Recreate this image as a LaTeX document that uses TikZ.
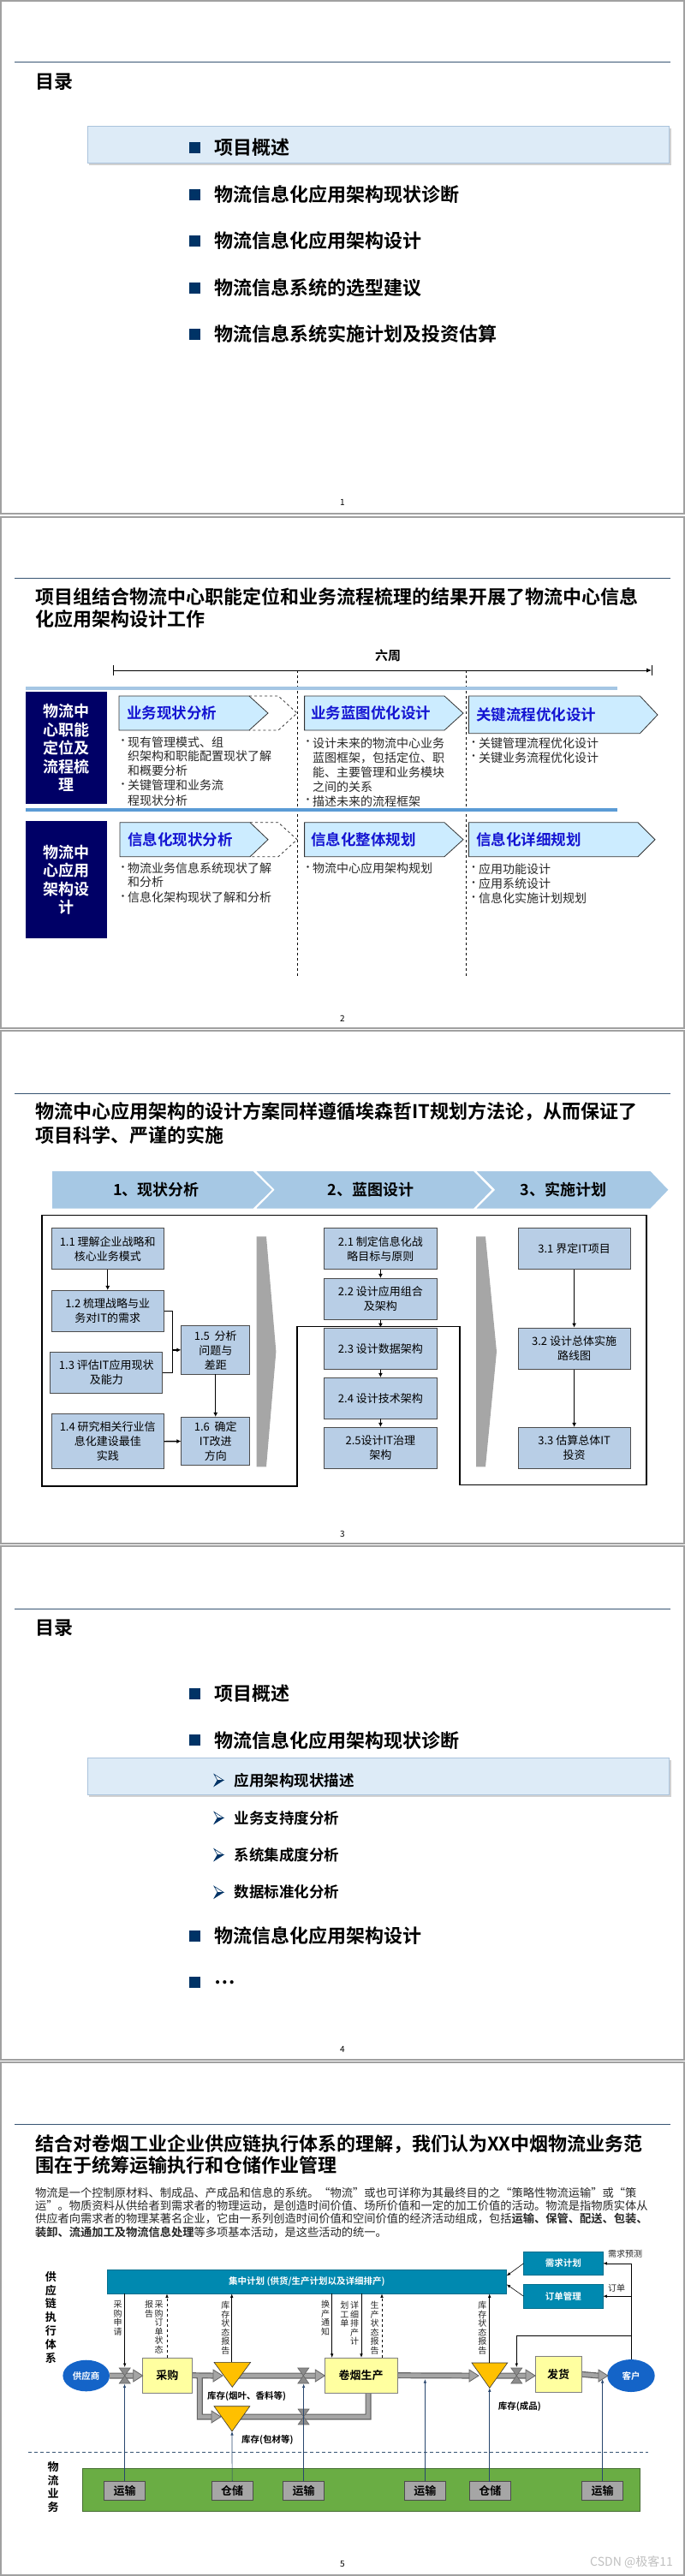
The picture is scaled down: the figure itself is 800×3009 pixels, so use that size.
\documentclass[tikz,border=0pt]{standalone}
\usepackage{fontspec}
\setmainfont{Noto Sans CJK SC}[BoldFont={Noto Sans CJK SC Bold}]
\usetikzlibrary{arrows.meta,shapes.geometric}
\pgfdeclarelayer{under}
\pgfsetlayers{under,main}
\definecolor{frameg}{RGB}{160,160,160}
\definecolor{hdr}{RGB}{55,85,115}
\definecolor{navy}{RGB}{0,51,102}
\definecolor{hilite}{RGB}{221,235,247}
\definecolor{hiliteb}{RGB}{170,195,220}
\definecolor{chevfill}{RGB}{204,236,255}
\definecolor{chevtxt}{RGB}{20,20,210}
\definecolor{darknavy}{RGB}{0,0,102}
\definecolor{barlight}{RGB}{165,198,228}
\definecolor{bardark}{RGB}{91,155,213}
\definecolor{phase}{RGB}{166,200,228}
\definecolor{boxblue}{RGB}{184,206,230}
\definecolor{sepgrey}{RGB}{166,166,166}
\definecolor{tealc}{RGB}{0,137,176}
\definecolor{ellblue}{RGB}{20,100,200}
\definecolor{pyellow}{RGB}{255,255,160}
\definecolor{triorange}{RGB}{255,192,0}
\definecolor{pipeout}{RGB}{100,100,100}
\definecolor{pipein}{RGB}{165,165,165}
\definecolor{valvefill}{RGB}{140,140,140}
\definecolor{thinblue}{RGB}{40,70,110}
\definecolor{lgreen}{RGB}{106,173,68}
\definecolor{dgreen}{RGB}{70,110,50}
\newcommand\subarrow[2]{%
  \filldraw[fill=white,draw=navy,line width=0.6pt] (#1,#2-7) -- (#1+11,#2) -- (#1+4,#2) -- cycle;
  \filldraw[fill=navy,draw=navy,line width=0.6pt] (#1+4,#2) -- (#1+11,#2) -- (#1,#2+7) -- cycle;}
\newcommand\phead[2]{\filldraw[fill=pipein,draw=pipeout,line width=0.8pt,line join=miter] (#1-11,#2-7) -- (#1,#2) -- (#1-11,#2+7) -- cycle;}
\newcommand\valve[2]{\filldraw[fill=valvefill,draw=pipeout,line width=0.6pt] (#1-6.5,#2-9) -- (#1+6.5,#2-9) -- (#1,#2) -- cycle (#1-6.5,#2+9) -- (#1+6.5,#2+9) -- (#1,#2) -- cycle;}
\tikzset{
  slideframe/.style={draw=frameg,line width=2pt},
  hline/.style={draw=hdr,line width=0.9pt},
  ttl/.style={anchor=west,inner sep=0pt,font=\bfseries\fontsize{22}{26}\selectfont},
  item/.style={anchor=west,inner sep=0pt,font=\bfseries\fontsize{22}{26}\selectfont},
  subitem/.style={anchor=west,inner sep=0pt,font=\bfseries\fontsize{17.5}{21}\selectfont},
  sq/.style={fill=navy,minimum size=13pt,inner sep=0pt},
  pageno/.style={inner sep=0pt,font=\fontsize{10}{12}\selectfont},
  hibox/.style={fill=hilite,draw=hiliteb,line width=0.8pt},
  shadowbox/.style={fill=black!18},
  navybox/.style={fill=darknavy,text=white,align=center,inner sep=0pt,font=\bfseries\fontsize{18}{21.5}\selectfont},
  chev/.style={fill=chevfill,draw=black!80,line width=0.8pt,line join=miter},
  chevdash/.style={draw=black!80,dashed,line width=0.8pt},
  chevlab/.style={anchor=west,inner sep=0pt,text=chevtxt,font=\bfseries\fontsize{17.5}{20}\selectfont},
  btxt/.style={anchor=west,inner sep=0pt,text=black!85,font=\fontsize{14}{16}\selectfont},
  bdot/.style={inner sep=0pt,text=black!85,font=\fontsize{12}{14}\selectfont},
  phasech/.style={fill=phase,draw=white,line width=1.5pt,line join=miter},
  phaselab/.style={inner sep=0pt,font=\bfseries\fontsize{18}{21}\selectfont},
  pbox/.style={fill=boxblue,draw=black!70,line width=0.8pt,align=center,inner sep=0pt,font=\fontsize{13}{17}\selectfont},
  barrow/.style={draw=black,line width=1.4pt,-{Latex[length=5pt,width=5pt]}},
  bline/.style={draw=black,line width=1.4pt},
  sepbar/.style={fill=sepgrey},
  para/.style={anchor=west,inner sep=0pt,text=black!85,font=\fontsize{13.25}{15}\selectfont},
  tealbox/.style={fill=tealc,draw=tealc!80!black,line width=0.5pt,text=white,inner sep=0pt,font=\bfseries\fontsize{10.5}{12}\selectfont},
  ell/.style={ellipse,fill=ellblue,text=white,inner sep=0pt,font=\bfseries\fontsize{10.5}{12}\selectfont},
  ybox/.style={fill=pyellow,draw=black!50,line width=0.8pt,inner sep=0pt,font=\bfseries\fontsize{13}{15}\selectfont},
  pipeo/.style={draw=pipeout,line width=7pt,line join=miter},
  pipei/.style={draw=pipein,line width=4.6pt,line join=miter},
  tri/.style={fill=triorange,draw=black!80,line width=0.6pt,line join=miter},
  tarrow/.style={draw=black,line width=0.6pt,-{Latex[length=4.5pt,width=3.5pt]}},
  tdarrow/.style={draw=black,line width=0.6pt,dashed,-{Latex[length=4.5pt,width=3.5pt]}},
  blarrow/.style={draw=thinblue,line width=0.7pt,-{Latex[length=4.5pt,width=3.5pt]}},
  vlab/.style={anchor=north,align=center,inner sep=0pt,text=black!85,font=\fontsize{10}{10.5}\selectfont},
  slab/.style={anchor=west,inner sep=0pt,font=\bfseries\fontsize{10.5}{12}\selectfont},
  nlab/.style={inner sep=0pt,text=black!85,font=\fontsize{10}{12}\selectfont},
  gbox/.style={fill=sepgrey,draw=black!70,line width=0.8pt,inner sep=0pt,minimum width=48pt,minimum height=21.3pt,font=\bfseries\fontsize{13}{15}\selectfont},
  vbold/.style={align=center,inner sep=0pt,font=\bfseries\fontsize{13}{15.8}\selectfont}
}
\begin{document}
\begin{tikzpicture}[x=1pt,y=-1pt]
\useasboundingbox (0,0) rectangle (800,3009);
% ================= slide 1
\draw[slideframe] (1,1) rectangle (799,600);
\draw[hline] (17,72.7) -- (783,72.7);
\node[ttl] (s1title) at (41,95.7) {目录};
\fill[shadowbox] (104,150) rectangle (783.5,193);
\draw[hibox] (102,147.7) rectangle (781,190.6);
\foreach \y/\t [count=\i] in {172/项目概述, 227/物流信息化应用架构现状诊断, 281/物流信息化应用架构设计, 336/物流信息系统的选型建议, 390/物流信息系统实施计划及投资估算}{
  \node[sq] (s1sq\i) at (227,\y) {};
  \node[item] (s1it\i) at (250,\y) {\t};
}
\node[pageno] (pg1) at (400,587) {1};
% ================= slide 2
\draw[slideframe] (1,603.5) rectangle (799,1200.5);
\draw[hline] (17,675) -- (783,675);
\node[ttl] (s2t1) at (41,696.7) {项目组结合物流中心职能定位和业务流程梳理的结果开展了物流中心信息};
\node[ttl] (s2t2) at (41,723) {化应用架构设计工作};
\node[inner sep=0pt,font=\bfseries\fontsize{15}{17}\selectfont] (six) at (453,766) {六周};
\coordinate (tlA) at (132,783);
\coordinate (tlB) at (761,783);
\draw[line width=0.8pt,-{Latex[length=6pt,width=5pt]}] (tlA) -- (tlB);
\draw[line width=0.8pt] (132,777) -- (132,789) (761,777) -- (761,789);
\draw[dashed,line width=0.7pt] (347.5,783) -- (347.5,1142) (544,783) -- (544,1142);
\draw[barlight,line width=4pt] (30,803.5) -- (721,803.5);
\draw[bardark,line width=3.5pt] (30,946) -- (721,946);
\node[navybox,minimum width=94.5pt,minimum height=131pt] (nb1) at (77.25,873.5) {物流中\\心职能\\定位及\\流程梳\\理};
\node[navybox,minimum width=94.5pt,minimum height=137pt] (nb2) at (77.25,1027.5) {物流中\\心应用\\架构设\\计};
% row 1 chevrons
\draw[chevdash] (291,813) -- (325,813) -- (347,833) -- (325,853) -- (291,853);
\draw[chev] (139,813) -- (291,813) -- (313,833) -- (291,853) -- (139,853) -- cycle;
\draw[chev] (355.6,813) -- (519,813) -- (541,833) -- (519,853) -- (355.6,853) -- cycle;
\draw[chev] (547.4,813) -- (747.4,813) -- (768,835) -- (747.4,856.7) -- (547.4,856.7) -- cycle;
\node[chevlab] (c1) at (148,833) {业务现状分析};
\node[chevlab] (c2) at (363,833) {业务蓝图优化设计};
\node[chevlab] (c3) at (556,835) {关键流程优化设计};
% row 2 chevrons
\draw[chevdash] (292,960.7) -- (325,960.7) -- (347,980.7) -- (325,1000.7) -- (292,1000.7);
\draw[chev] (140,960.7) -- (292,960.7) -- (313,980.7) -- (292,1000.7) -- (140,1000.7) -- cycle;
\draw[chev] (355.6,960.7) -- (519,960.7) -- (541,980.7) -- (519,1000.7) -- (355.6,1000.7) -- cycle;
\draw[chev] (547.4,960.7) -- (745,960.7) -- (765,980.7) -- (745,1000.7) -- (547.4,1000.7) -- cycle;
\node[chevlab] (c4) at (149,981) {信息化现状分析};
\node[chevlab] (c5) at (363,981) {信息化整体规划};
\node[chevlab] (c6) at (556,981) {信息化详细规划};
% bullet texts row 1
\node[bdot] at (143.5,866.7) {•};
\node[btxt] at (149,866.7) {现有管理模式、组};
\node[btxt] at (149,883.3) {织架构和职能配置现状了解};
\node[btxt] at (149,900) {和概要分析};
\node[bdot] at (143.5,917.3) {•};
\node[btxt] at (149,917.3) {关键管理和业务流};
\node[btxt] at (149,935) {程现状分析};
\node[bdot] at (359.5,867.7) {•};
\node[btxt] at (365,867.7) {设计未来的物流中心业务};
\node[btxt] at (365,885) {蓝图框架，包括定位、职};
\node[btxt] at (365,902.3) {能、主要管理和业务模块};
\node[btxt] at (365,919) {之间的关系};
\node[bdot] at (359.5,936) {•};
\node[btxt] at (365,936) {描述未来的流程框架};
\node[bdot] at (553,868.3) {•};
\node[btxt] at (559,868.3) {关键管理流程优化设计};
\node[bdot] at (553,885) {•};
\node[btxt] at (559,885) {关键业务流程优化设计};
% bullet texts row 2
\node[bdot] at (143.5,1014.3) {•};
\node[btxt] at (149,1014.3) {物流业务信息系统现状了解};
\node[btxt] at (149,1030.5) {和分析};
\node[bdot] at (143.5,1048.3) {•};
\node[btxt] at (149,1048.3) {信息化架构现状了解和分析};
\node[bdot] at (359.5,1014.3) {•};
\node[btxt] at (365,1014.3) {物流中心应用架构规划};
\node[bdot] at (553,1015) {•};
\node[btxt] at (559,1015) {应用功能设计};
\node[bdot] at (553,1032.3) {•};
\node[btxt] at (559,1032.3) {应用系统设计};
\node[bdot] at (553,1049.3) {•};
\node[btxt] at (559,1049.3) {信息化实施计划规划};
\node[pageno] (pg2) at (400,1190) {2};
% ================= slide 3
\draw[slideframe] (1,1204) rectangle (799,1802.5);
\draw[hline] (17,1277.3) -- (783,1277.3);
\node[ttl] (s3t1) at (41,1299) {物流中心应用架构的设计方案同样遵循埃森哲IT规划方法论，从而保证了};
\node[ttl] (s3t2) at (41,1325.7) {项目科学、严谨的实施};
\draw[phasech] (60,1367.3) -- (296,1367.3) -- (319,1389.8) -- (296,1412.3) -- (60,1412.3) -- cycle;
\draw[phasech] (297.4,1367.3) -- (553.6,1367.3) -- (575.5,1389.8) -- (553.6,1412.3) -- (297.4,1412.3) -- (319.5,1389.8) -- cycle;
\draw[phasech] (554.6,1367.3) -- (760,1367.3) -- (781.6,1389.8) -- (760,1412.3) -- (554.6,1412.3) -- (577,1389.8) -- cycle;
\node[phaselab] (ph1) at (182.6,1389.8) {1、现状分析};
\node[phaselab] (ph2) at (432.7,1389.8) {2、蓝图设计};
\node[phaselab] (ph3) at (658,1389.8) {3、实施计划};
\draw[line width=1.6pt,line join=miter] (49,1419.3) -- (755,1419.3) -- (755,1734.3) -- (537,1734.3) -- (537,1549.3) -- (347,1549.3) -- (347,1735.7) -- (49,1735.7) -- cycle;
\fill[sepbar] (299.5,1444.3) -- (311,1444.3) -- (322.4,1578.8) -- (311,1713.3) -- (299.5,1713.3) -- cycle;
\fill[sepbar] (556,1444.3) -- (567,1444.3) -- (580,1578.8) -- (567,1713.3) -- (556,1713.3) -- cycle;
\node[pbox,minimum width=131pt,minimum height=48pt] (b11) at (125.75,1458.7) {1.1 理解企业战略和\\核心业务模式};
\node[pbox,minimum width=131pt,minimum height=47.7pt] (b12) at (125.75,1531.2) {1.2 梳理战略与业\\务对IT的需求};
\node[pbox,minimum width=131pt,minimum height=48pt] (b13) at (124.25,1603.3) {1.3 评估IT应用现状\\及能力};
\node[pbox,minimum width=131pt,minimum height=64pt] (b14) at (125.75,1683.7) {1.4 研究相关行业信\\息化建设最佳\\实践};
\node[pbox,minimum width=80pt,minimum height=56.3pt] (b15) at (251.75,1576.85) {1.5\ \ 分析\\问题与\\差距};
\node[pbox,minimum width=80pt,minimum height=56.4pt] (b16) at (251.75,1683.5) {1.6\ \ 确定\\IT改进\\方向};
\node[pbox,minimum width=131.6pt,minimum height=48pt] (b21) at (444.4,1458.7) {2.1 制定信息化战\\略目标与原则};
\node[pbox,minimum width=131.6pt,minimum height=48pt] (b22) at (444.4,1517.3) {2.2 设计应用组合\\及架构};
\node[pbox,minimum width=131.6pt,minimum height=48.3pt] (b23) at (444.4,1575.15) {2.3 设计数据架构};
\node[pbox,minimum width=131.6pt,minimum height=47.7pt] (b24) at (444.4,1633.15) {2.4 设计技术架构};
\node[pbox,minimum width=131.6pt,minimum height=48pt] (b25) at (444.4,1691.3) {2.5设计IT治理\\架构};
\node[pbox,minimum width=131.2pt,minimum height=48pt] (b31) at (670.6,1458.7) {3.1 界定IT项目};
\node[pbox,minimum width=131.2pt,minimum height=48.3pt] (b32) at (670.6,1575.15) {3.2 设计总体实施\\路线图};
\node[pbox,minimum width=131.2pt,minimum height=48pt] (b33) at (670.6,1691.3) {3.3 估算总体IT\\投资};
\draw[barrow] (b11.south) -- (b12.north);
\coordinate (j12) at (201.5,1531.2);
\coordinate (j13) at (201.5,1603.3);
\coordinate (j15) at (201.5,1576.85);
\draw[bline] (b12.east) -- (j12) -- (j13) -- (b13.east);
\draw[barrow] (j15) -- (b15.west);
\draw[barrow] (b15.south) -- (b16.north);
\draw[barrow] (b14.east) -- (b16.west);
\draw[barrow] (b21.south) -- (b22.north);
\draw[barrow] (b22.south) -- (b23.north);
\draw[barrow] (b23.south) -- (b24.north);
\draw[barrow] (b24.south) -- (b25.north);
\draw[barrow] (b31.south) -- (b32.north);
\draw[barrow] (b32.south) -- (b33.north);
\node[pageno] (pg3) at (400,1791.7) {3};
% ================= slide 4
\draw[slideframe] (1,1806) rectangle (799,2405.5);
\draw[hline] (17,1879.2) -- (783,1879.2);
\node[ttl] (s4title) at (41,1901.4) {目录};
\node[sq] (s4sq1) at (227,1978) {};
\node[item] (s4it1) at (250,1978) {项目概述};
\node[sq] (s4sq2) at (227,2032.7) {};
\node[item] (s4it2) at (250,2032.7) {物流信息化应用架构现状诊断};
\fill[shadowbox] (104,2056) rectangle (783.5,2099);
\draw[hibox] (102,2053.7) rectangle (781,2096.6);
\foreach \y/\t [count=\i] in {2079.4/应用架构现状描述, 2123.4/业务支持度分析, 2166.6/系统集成度分析, 2210.3/数据标准化分析}{
  \subarrow{250}{\y}
  \node[subitem] (s4sub\i) at (273.5,\y) {\t};
}
\node[sq] (s4sq3) at (227,2261.2) {};
\node[item] (s4it3) at (250,2261.2) {物流信息化应用架构设计};
\node[sq] (s4sq4) at (227,2315.9) {};
\node[item] (s4it4) at (250,2315.9) {…};
\node[pageno] (pg4) at (400,2394) {4};
% ================= slide 5
\draw[slideframe] (1,2409) rectangle (799,3007.5);
\draw[hline] (17,2481) -- (783,2481);
\node[ttl] (s5t1) at (41,2504.3) {结合对卷烟工业企业供应链执行体系的理解，我们认为XX中烟物流业务范};
\node[ttl] (s5t2) at (41,2529) {围在于统筹运输执行和仓储作业管理};
\node[para] (p1) at (41,2561) {物流是一个控制原材料、制成品、产成品和信息的系统。“物流”或也可详称为其最终目的之“策略性物流运输”或“策};
\node[para] (p2) at (41,2576.3) {运”。物质资料从供给者到需求者的物理运动，是创造时间价值、场所价值和一定的加工价值的活动。物流是指物质实体从};
\node[para] (p3) at (41,2591.6) {供应者向需求者的物理某著名企业，它由一系列创造时间价值和空间价值的经济活动组成，包括\textbf{运输、保管、配送、包装、}};
\node[para] (p4) at (41,2607) {\textbf{装卸、流通加工及物流信息处理}等多项基本活动，是这些活动的统一。};
% planning boxes
\node[tealbox,minimum width=466.7pt,minimum height=27.6pt] (plan) at (358.35,2665.5) {集中计划 (供货/生产计划以及详细排产)};
\node[tealbox,minimum width=92.3pt,minimum height=27.7pt] (dem) at (657.85,2643.85) {需求计划};
\node[tealbox,minimum width=92.3pt,minimum height=27.7pt] (ord) at (657.85,2682.15) {订单管理};
\node[vbold] (sclab) at (59.3,2706.7) {供\\应\\链\\执\\行\\体\\系};
% flow nodes
\node[ell,minimum width=54.6pt,minimum height=36.6pt] (sup) at (100.7,2775) {供应商};
\node[ell,minimum width=55.4pt,minimum height=38pt] (cust) at (737,2775) {客户};
\node[ybox,minimum width=57.3pt,minimum height=40.7pt] (buy) at (195.35,2774.65) {采购};
\node[ybox,minimum width=84.7pt,minimum height=40.7pt] (prod) at (421.65,2774.65) {卷烟生产};
\node[ybox,minimum width=54.3pt,minimum height=41.3pt] (ship) at (652.15,2773.35) {发货};
\coordinate (v1) at (145.7,2775);
\coordinate (v2) at (354.3,2775);
\coordinate (v3) at (354.6,2823);
\coordinate (v4) at (603.3,2775);
\coordinate (t1) at (271.3,2788.3);
\coordinate (t2) at (271,2840);
\coordinate (t3) at (571.8,2789.3);
\begin{pgfonlayer}{under}
\draw[pipeo] (sup.east) -- (155.7,2775) (buy.east) -- (249,2775) (233.3,2775) -- (233.3,2823) -- (247,2823)
  (271,2775) -- (368.3,2775) (271,2823) -- (430,2823) -- (prod.south -| 430,0) (prod.east) -- (548,2775)
  (572,2775) -- (614,2775) (ship.east) -- (699,2775);
\draw[pipei] (sup.east) -- (155.7,2775) (buy.east) -- (249,2775) (233.3,2775) -- (233.3,2823) -- (247,2823)
  (271,2775) -- (368.3,2775) (271,2823) -- (430,2823) -- (prod.south -| 430,0) (prod.east) -- (548,2775)
  (572,2775) -- (614,2775) (ship.east) -- (699,2775);
\end{pgfonlayer}
\draw[tri] (250,2759.3) -- (292.7,2759.3) -- (t1) -- cycle;
\draw[tri] (250,2810.7) -- (291.8,2810.7) -- (t2) -- cycle;
\draw[tri] (551,2760) -- (592.7,2760) -- (t3) -- cycle;
\phead{166.7}{2775}
\phead{260}{2775}
\phead{258}{2823}
\phead{379.3}{2775}
\phead{559}{2775}
\phead{625}{2775}
\phead{710}{2775}
\node[slab] (inv1) at (242,2799) {库存(烟叶、香料等)};
\node[slab] (inv2) at (282,2850) {库存(包材等)};
\node[slab] (inv3) at (581.7,2810.7) {库存(成品)};
% thin black arrows
\draw[tarrow] (145.7,2679.3) -- (145.7,2765);
\draw[tdarrow] (buy.north -| 195,0) -- (195,2679.3);
\draw[tarrow] (270.7,2759.3) -- (270.7,2679.3);
\draw[tarrow] (387.7,2679.3) -- (prod.north -| 387.7,0);
\draw[tarrow] (422,2679.3) -- (prod.north -| 422,0);
\draw[tdarrow] (prod.north -| 446,0) -- (446,2679.3);
\draw[tarrow] (571.7,2760) -- (571.7,2679.3);
\draw[tarrow] (dem.west) -- (591.7,2658.3);
\draw[tarrow] (ord.west) -- (591.7,2668.3);
\draw[tarrow] (cust.north) |- (dem.east);
\draw[tarrow] (737,2682.15) -- (ord.east);
\draw[tarrow] (737,2728.3) -- (603.3,2728.3) -- (603.3,2765);
\node[nlab] (fc) at (730,2633) {需求预测};
\node[nlab] (odl) at (720,2672.7) {订单};
% vertical labels
\node[vlab] at (137.7,2687) {采\\购\\申\\请};
\node[vlab] at (185.7,2687) {采\\购\\订\\单\\状\\态};
\node[vlab] at (174,2687) {报\\告};
\node[vlab] at (263.3,2688) {库\\存\\状\\态\\报\\告};
\node[vlab] at (380,2687) {换\\产\\通\\知};
\node[vlab] at (414,2688) {详\\细\\排\\产\\计};
\node[vlab] at (402.3,2688) {划\\工\\单};
\node[vlab] at (437.7,2688) {生\\产\\状\\态\\报\\告};
\node[vlab] at (563.3,2688) {库\\存\\状\\态\\报\\告};
% logistics row
\draw[dashed,draw=hdr,line width=1pt,dash pattern=on 4pt off 3pt] (33,2864.3) -- (756.6,2864.3);
\fill[lgreen,draw=dgreen,line width=0.8pt] (96,2883.7) rectangle (747.4,2933.3);
\node[vbold] (lglab) at (62,2905) {物\\流\\业\\务};
\node[gbox] (ys1) at (145.5,2909.35) {运输};
\node[gbox] (cc1) at (271.15,2909.35) {仓储};
\node[gbox] (ys2) at (354.6,2909.35) {运输};
\node[gbox] (ys3) at (496.4,2909.35) {运输};
\node[gbox] (cc2) at (572.25,2909.35) {仓储};
\node[gbox] (ys4) at (703.6,2909.35) {运输};
\valve{145.7}{2775}
\valve{354.3}{2775}
\valve{354.6}{2823}
\valve{603.3}{2775}
\draw[blarrow] (ys1.north) -- (145.5,2784.5);
\draw[blarrow] (cc1.north) -- (t2);
\draw[blarrow] (ys2.north) -- (354.6,2784.5);
\draw[blarrow] (ys3.north) -- (496.4,2779);
\draw[blarrow] (cc2.north) -- (t3 |- cc2.north) -- (t3);
\draw[blarrow] (ys4.north) -- (703.6,2779);
\node[pageno] (pg5) at (400,2995) {5};
\node[anchor=east,inner sep=0pt,text=black!25,font=\fontsize{14}{16}\selectfont] (wm) at (786,2993) {CSDN @极客11};
\end{tikzpicture}
\end{document}
